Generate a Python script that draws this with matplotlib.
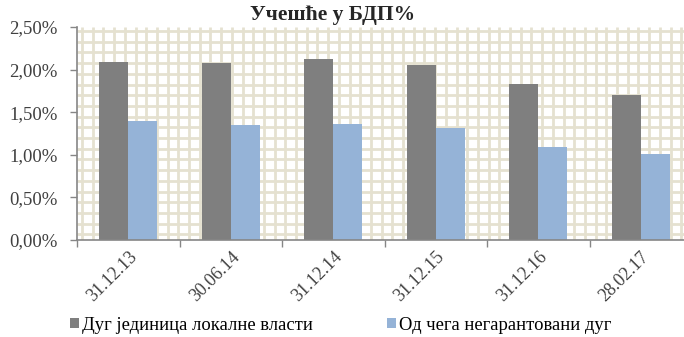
import numpy as np
import matplotlib.pyplot as plt

# Local government debt as share of GDP
dates = ["31.12.13", "30.06.14", "31.12.14", "31.12.15", "31.12.16", "28.02.17"]
debt_total = [2.09, 2.08, 2.12, 2.05, 1.83, 1.70]
debt_unguaranteed = [1.40, 1.35, 1.36, 1.31, 1.09, 1.01]
yticks = [0.0, 0.5, 1.0, 1.5, 2.0, 2.5]
ytick_labels = ["0,00%", "0,50%", "1,00%", "1,50%", "2,00%", "2,50%"]
title = "Учешће у БДП%"
series_names = ["Дуг јединица локалне власти", "Од чега негарантовани дуг"]

plt.rcParams["font.family"] = ["Liberation Serif", "DejaVu Serif"]

W, H = 684, 337
fig = plt.figure(figsize=(W / 100, H / 100), dpi=100)
# plot area runs slightly past the right edge of the image
left_px, right_px, top_px, bottom_px = 77, 692, 27, 240
ax = fig.add_axes([left_px / W, 1 - bottom_px / H,
                   (right_px - left_px) / W, (bottom_px - top_px) / H])

n = len(dates)
ymax = 2.5
# small-grid pattern fill behind the bars, about 10.7 px per cell
step = 10.7
pw, ph = right_px - left_px, bottom_px - top_px
gx = -0.5 + np.arange(5.0, pw, step) / pw * n
gy = ymax - np.arange(4.0, ph, step) / ph * ymax
ax.vlines(gx, 0, ymax, colors="#E5E1D0", linewidth=2.0, zorder=0.5)
ax.hlines(gy, -0.5, n - 0.5, colors="#E5E1D0", linewidth=2.0, zorder=0.5)

x = np.arange(n)
bw = 0.283
ax.bar(x - bw / 2, debt_total, bw, color="#7F7F7F", label=series_names[0], zorder=2)
ax.bar(x + bw / 2, debt_unguaranteed, bw, color="#95B3D7", label=series_names[1], zorder=2)

ax.set_xlim(-0.5, n - 0.5)
ax.set_ylim(0, ymax)
ax.set_yticks(yticks)
ax.set_yticklabels(ytick_labels, fontsize=13.5, color="#404040")
ax.set_xticks(x)
ax.set_xticklabels(dates, rotation=45, ha="right", va="top",
                   rotation_mode="anchor", fontsize=13, color="#404040")
ax.tick_params(axis="x", length=0, pad=6)
ax.set_xticks(np.arange(-0.5, n, 1), minor=True)
ax.tick_params(axis="x", which="minor", length=5, color="#868686", width=1)
ax.tick_params(axis="y", length=5, color="#868686", width=1, pad=9)

for s in ["top", "right"]:
    ax.spines[s].set_visible(False)
for s in ["left", "bottom"]:
    ax.spines[s].set_color("#868686")
    ax.spines[s].set_linewidth(1.2)
    ax.spines[s].set_zorder(3)

fig.text(333 / W, 1 - 15 / H, title, ha="center", va="center",
         fontsize=15.5, fontweight="bold", color="#262626")

fig.legend(loc="center left", bbox_to_anchor=(70 / W, 1 - 325 / H), ncol=2,
           frameon=False, fontsize=13.4, handlelength=0.48, handleheight=0.48,
           handletextpad=0.16, columnspacing=4.0, borderaxespad=0, borderpad=0)

fig.savefig("out.png", dpi=100)
